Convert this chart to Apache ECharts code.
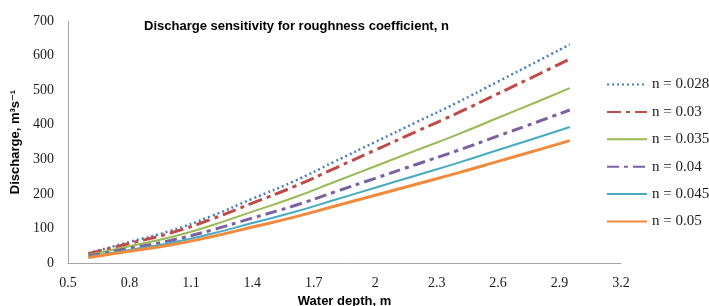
<!DOCTYPE html>
<html>
<head>
<meta charset="utf-8">
<script src="https://cdn.jsdelivr.net/npm/echarts@6/dist/echarts.min.js"></script>
<style>
  html, body { margin: 0; padding: 0; background: #fff; }
  #chart { width: 709px; height: 306px; }
</style>
</head>
<body>
<div id="chart"></div>
<script>
// water depth (m)
var depth = [0.6, 0.8, 1.0, 1.2, 1.4, 1.6, 1.8, 2.0, 2.2, 2.4, 2.6, 2.8, 2.95];

// discharge (m3/s) for each roughness coefficient
var q028 = [28.6, 60.7, 92.9, 135.7, 185.7, 235.7, 292.9, 350, 407, 464, 525, 586, 632];
var q030 = [26.7, 56.7, 86.7, 126.7, 173.3, 220, 273.3, 326.7, 380, 433.3, 490, 546.7, 590];
var q035 = [22.9, 48.6, 74.3, 108.6, 148.6, 188.6, 234.3, 280, 325.7, 371.4, 420, 468.6, 505.7];
var q040 = [20, 42.5, 65, 95, 130, 165, 205, 245, 285, 325, 367.5, 410, 442.5];
var q045 = [17.8, 37.8, 57.8, 84.4, 115.6, 146.7, 182.2, 217.8, 253.3, 288.9, 326.7, 364.4, 393.3];
var q050 = [16, 34, 52, 76, 104, 132, 164, 196, 228, 260, 294, 328, 354];

var seriesNames = ["n = 0.028", "n = 0.03", "n = 0.035", "n = 0.04", "n = 0.045", "n = 0.05"];

function pairs(ys) {
    return depth.map(function (d, i) { return [d, ys[i]]; });
}

function line(name, ys, color, width, dash) {
    return {
        name: name,
        type: "line",
        smooth: true,
        symbol: "none",
        data: pairs(ys),
        lineStyle: { color: color, width: width, type: dash },
        itemStyle: { color: color }
    };
}

var chart = echarts.init(document.getElementById("chart"));

var serif = "'Liberation Serif', 'Times New Roman', serif";
var sans = "'Liberation Sans', Arial, 'DejaVu Sans', sans-serif";
var axisColor = "#a6a6a6";

chart.setOption({
    animation: false,
    title: {
        text: "Discharge sensitivity for roughness coefficient, n",
        left: 139,
        top: 15,
        textStyle: { fontFamily: sans, fontSize: 13, fontWeight: "bold", color: "#000" }
    },
    grid: { left: 68, right: 88, top: 21, bottom: 43, containLabel: false, outerBoundsMode: "none" },
    legend: {
        orient: "vertical",
        left: 601,
        top: 72,
        itemWidth: 40,
        itemHeight: 14,
        itemGap: 12.4,
        data: seriesNames,
        itemStyle: { opacity: 0 },
        textStyle: { fontFamily: serif, fontSize: 15, color: "#1a1a1a" }
    },
    xAxis: {
        type: "value",
        min: 0.5,
        max: 3.2,
        interval: 0.3,
        name: "Water depth, m",
        nameLocation: "middle",
        nameGap: 27,
        nameTextStyle: { fontFamily: sans, fontSize: 13, fontWeight: "bold", color: "#000" },
        axisLine: { show: true, lineStyle: { color: axisColor, width: 1 } },
        axisTick: { show: false },
        splitLine: { show: false },
        axisLabel: {
            fontFamily: serif, fontSize: 14, color: "#1a1a1a", margin: 13,
            formatter: function (v) { return String(Math.round(v * 10) / 10); }
        }
    },
    yAxis: {
        type: "value",
        min: 0,
        max: 700,
        interval: 100,
        name: "Discharge, m\u00b3s\u207b\u00b9",
        nameLocation: "middle",
        nameGap: 37,
        nameTextStyle: { fontFamily: sans, fontSize: 13, fontWeight: "bold", color: "#000" },
        axisLine: { show: true, lineStyle: { color: axisColor, width: 1 } },
        axisTick: { show: false },
        splitLine: { show: false },
        axisLabel: { fontFamily: serif, fontSize: 14, color: "#1a1a1a", margin: 14 }
    },
    series: [
        line(seriesNames[0], q028, "#4a7ebb", 2.5, [2, 3]),
        line(seriesNames[1], q030, "#be4b48", 3, [14, 5, 4, 5]),
        line(seriesNames[2], q035, "#98b954", 2, "solid"),
        line(seriesNames[3], q040, "#7d60a0", 3, [12, 5, 4, 5]),
        line(seriesNames[4], q045, "#46aac5", 2, "solid"),
        line(seriesNames[5], q050, "#f08a3c", 3, "solid")
    ]
});
</script>
</body>
</html>
